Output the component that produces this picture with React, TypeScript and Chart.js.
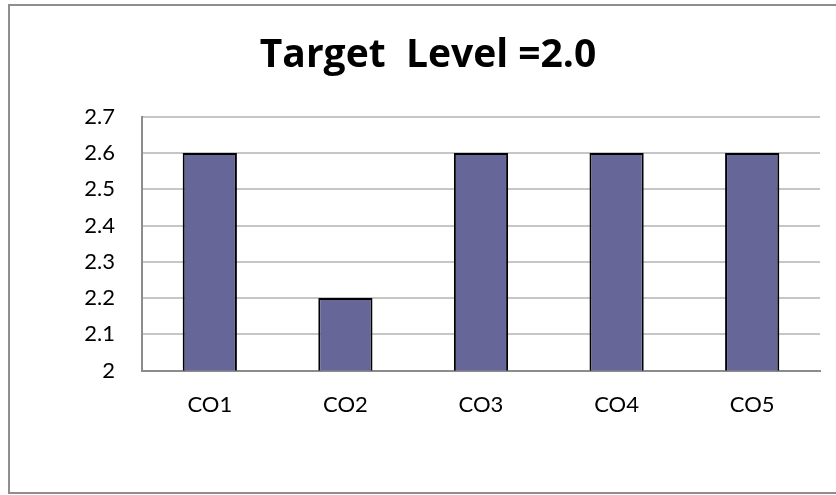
import React, { useEffect, useRef } from "react";
import { Chart, registerables } from "chart.js";

Chart.register(...registerables);

const categories = ["CO1", "CO2", "CO3", "CO4", "CO5"];
const values = [2.6, 2.2, 2.6, 2.6, 2.6];
const yMin = 2;
const yMax = 2.7;
const yStep = 0.1;
const titleText = "Target  Level =2.0";

export default function App() {
  const ref = useRef<HTMLCanvasElement | null>(null);

  useEffect(() => {
    if (!ref.current) return;
    const chart = new Chart(ref.current, {
      type: "bar",
      data: {
        labels: categories,
        datasets: [
          {
            data: values,
            backgroundColor: "#666699",
            borderColor: "#000000",
            borderWidth: 2,
            categoryPercentage: 1,
            barPercentage: 0.4,
          },
        ],
      },
      options: {
        responsive: false,
        animation: false,
        layout: { padding: { left: 36, right: 16, top: 0, bottom: 56 } },
        plugins: {
          legend: { display: false },
          tooltip: { enabled: false },
          title: {
            display: true,
            text: titleText,
            color: "#000",
            font: { family: "Open Sans", size: 39, weight: "bold" },
            padding: { top: 32, bottom: 38 },
          },
        },
        scales: {
          x: {
            grid: { display: false, drawTicks: false },
            border: { display: true, color: "#8c8c8c", width: 2 },
            ticks: {
              color: "#000",
              font: { family: "Lato", size: 22 },
              padding: 21,
            },
          },
          y: {
            min: yMin,
            max: yMax,
            grid: { color: "#c6c6c6", lineWidth: 2, drawTicks: false },
            border: { display: true, color: "#8c8c8c", width: 2 },
            ticks: {
              stepSize: yStep,
              color: "#000",
              font: { family: "Lato", size: 22 },
              padding: 27,
              callback: (v: any) => String(Math.round(Number(v) * 10) / 10),
            },
            afterFit: (s: any) => {
              s.width = 106;
            },
          },
        },
      },
    });
    return () => chart.destroy();
  }, []);

  return (
    <>
      <div
        style={{
          position: "fixed",
          left: 8,
          top: 4,
          right: 0,
          bottom: 1,
          border: "2px solid #8e8e8e",
          borderRight: "none",
          boxSizing: "border-box",
        }}
      />
      <canvas
        ref={ref}
        width={836}
        height={495}
        style={{ position: "fixed", left: 0, top: 0 }}
      />
    </>
  );
}
